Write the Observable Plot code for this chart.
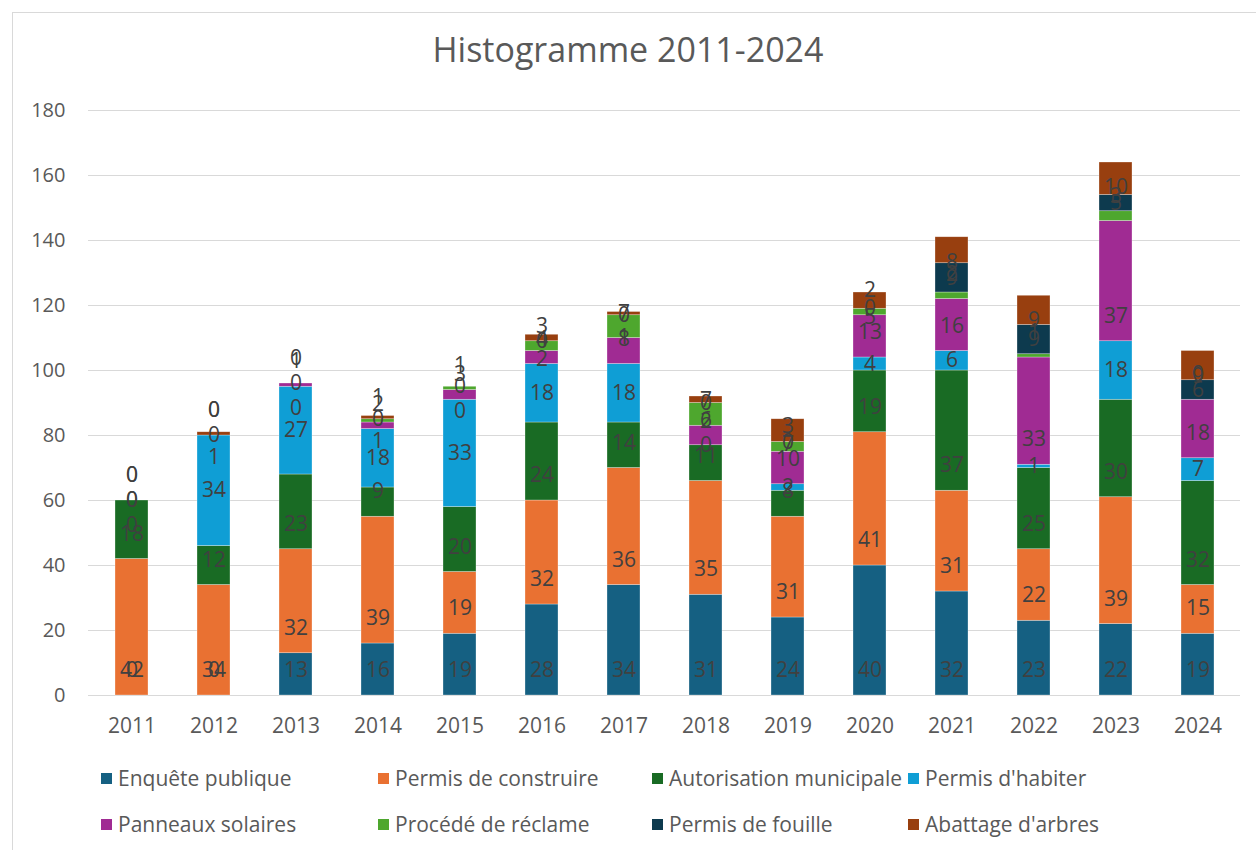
<!DOCTYPE html>
<html>
<head>
<meta charset="utf-8">
<script src="https://cdn.jsdelivr.net/npm/d3@7"></script>
<script src="https://cdn.jsdelivr.net/npm/@observablehq/plot@0.6"></script>
<style>
  body { margin: 0; background: #fff; font-family: "Open Sans", sans-serif; }
  #frame { position: absolute; left: 12px; top: 12px; width: 1260px; height: 860px; border: 1px solid #d9d9d9; box-sizing: border-box; }
  #title { position: absolute; left: 0; top: 26px; width: 1256px; text-align: center; font-size: 34px; color: #595959; }
  #chart { position: absolute; left: 0; top: 80px; }
  #legend { position: absolute; left: 101px; top: 755px; display: grid; grid-template-columns: 277px 274px 256px 300px; grid-auto-rows: 46px; font-size: 21px; color: #595959; }
  .item { display: flex; align-items: center; white-space: nowrap; }
  .sw { width: 11px; height: 11px; margin-right: 6px; flex: none; }
</style>
</head>
<body>
<div id="frame"></div>
<div id="title">Histogramme 2011-2024</div>
<div id="chart"></div>
<div id="legend"></div>
<script>
const years = ["2011","2012","2013","2014","2015","2016","2017","2018","2019","2020","2021","2022","2023","2024"];
const seriesNames = ["Enquête publique","Permis de construire","Autorisation municipale","Permis d'habiter","Panneaux solaires","Procédé de réclame","Permis de fouille","Abattage d'arbres"];
const colors = ["#156082","#E97132","#196B24","#0F9ED5","#A02B93","#4EA72E","#0D3A4E","#983F0F"];

const enquete      = [0, 0, 13, 16, 19, 28, 34, 31, 24, 40, 32, 23, 22, 19];
const construire   = [42, 34, 32, 39, 19, 32, 36, 35, 31, 41, 31, 22, 39, 15];
const autorisation = [18, 12, 23, 9, 20, 24, 14, 11, 8, 19, 37, 25, 30, 32];
const habiter      = [0, 34, 27, 18, 33, 18, 18, 0, 2, 4, 6, 1, 18, 7];
const panneaux     = [0, 0, 1, 2, 3, 4, 8, 6, 10, 13, 16, 33, 37, 18];
const reclame      = [0, 0, 0, 1, 1, 3, 7, 7, 3, 2, 2, 1, 3, 0];
const fouille      = [0, 0, 0, 0, 0, 0, 0, 0, 0, 0, 9, 9, 5, 6];
const abattage     = [0, 1, 0, 1, 0, 2, 1, 2, 7, 5, 8, 9, 10, 9];

// label placement per series (as in the Excel source): base / center / end
const labelPos = ["base","base","base","center","base","base","center","end"];
const yTicks = [0, 20, 40, 60, 80, 100, 120, 140, 160, 180];

const seriesValues = [enquete, construire, autorisation, habiter, panneaux, reclame, fouille, abattage];

const rows = [];
years.forEach((yr, i) => {
  let acc = 0;
  seriesValues.forEach((vals, s) => {
    const v = vals[i];
    rows.push({year: yr, series: seriesNames[s], value: v, base: acc, top: acc + v, mid: acc + v / 2, pos: labelPos[s]});
    acc += v;
  });
});

const labelStyle = {fontSize: 21, fill: "#404040", fontFamily: "Open Sans, sans-serif"};

const chart = Plot.plot({
  width: 1256,
  height: 670,
  marginTop: 30,
  marginBottom: 55,
  marginLeft: 88,
  marginRight: 16,
  style: {fontFamily: "Open Sans, sans-serif", background: "transparent"},
  x: {domain: years, paddingInner: 0.6, paddingOuter: 0.3, label: null},
  y: {domain: [0, 180], label: null},
  color: {domain: seriesNames, range: colors},
  marks: [
    Plot.gridY(yTicks, {stroke: "#d9d9d9", strokeOpacity: 1, strokeWidth: 1}),
    Plot.axisY(yTicks, {tickSize: 0, tickPadding: 23, fontSize: 20, fill: "#595959", label: null}),
    Plot.axisX({tickSize: 0, tickPadding: 23, fontSize: 21, fill: "#595959", label: null}),
    Plot.barY(rows, {x: "year", y1: "base", y2: "top", fill: "series", stroke: "white", strokeWidth: 0.6, strokeOpacity: 0.5}),
    Plot.text(rows.filter(d => d.pos === "base"), {x: "year", y: "base", text: d => String(d.value), dy: -25, ...labelStyle}),
    Plot.text(rows.filter(d => d.pos === "center"), {x: "year", y: "mid", text: d => String(d.value), ...labelStyle}),
    Plot.text(rows.filter(d => d.pos === "end"), {x: "year", y: "top", text: d => String(d.value), dy: 25, ...labelStyle})
  ]
});
document.getElementById("chart").appendChild(chart);

const legend = document.getElementById("legend");
seriesNames.forEach((name, i) => {
  const item = document.createElement("div");
  item.className = "item";
  const sw = document.createElement("span");
  sw.className = "sw";
  sw.style.background = colors[i];
  const t = document.createElement("span");
  t.textContent = name;
  item.appendChild(sw);
  item.appendChild(t);
  legend.appendChild(item);
});
</script>
</body>
</html>
